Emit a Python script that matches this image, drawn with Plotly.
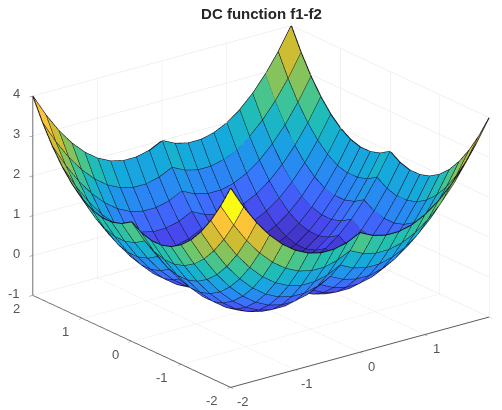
import plotly.graph_objects as go

# grid and values
grid = [-2.0,-1.8,-1.6,-1.4,-1.2,-1.0,-0.8,-0.6,-0.4,-0.2,0.0,0.2,0.4,0.6,0.8,1.0,1.2,1.4,1.6,1.8,2.0]
row_a = [4,3.44,2.96,2.56,2.24,2,1.84,1.76,1.76,1.84,2,1.84,1.76,1.76,1.84,2,2.24,2.56,2.96,3.44,4]
row_b = [3.44,2.88,2.4,2,1.68,1.44,1.28,1.2,1.2,1.28,1.44,1.28,1.2,1.2,1.28,1.44,1.68,2,2.4,2.88,3.44]
row_c = [2.96,2.4,1.92,1.52,1.2,.96,.8,.72,.72,.8,.96,.8,.72,.72,.8,.96,1.2,1.52,1.92,2.4,2.96]
row_d = [2.56,2,1.52,1.12,.8,.56,.4,.32,.32,.4,.56,.4,.32,.32,.4,.56,.8,1.12,1.52,2,2.56]
row_e = [2.24,1.68,1.2,.8,.48,.24,.08,0,0,.08,.24,.08,0,0,.08,.24,.48,.8,1.2,1.68,2.24]
row_f = [2,1.44,.96,.56,.24,0,-.16,-.24,-.24,-.16,0,-.16,-.24,-.24,-.16,0,.24,.56,.96,1.44,2]
row_g = [1.84,1.28,.8,.4,.08,-.16,-.32,-.4,-.4,-.32,-.16,-.32,-.4,-.4,-.32,-.16,.08,.4,.8,1.28,1.84]
row_h = [1.76,1.2,.72,.32,0,-.24,-.4,-.48,-.48,-.4,-.24,-.4,-.48,-.48,-.4,-.24,0,.32,.72,1.2,1.76]
z_rows = [row_a,row_b,row_c,row_d,row_e,
          row_f,row_g,row_h,row_h,row_g,row_f,row_g,row_h,row_h,row_g,row_f,
          row_e,row_d,row_c,row_b,row_a]

ticks = [-2,-1,0,1,2]
zticks = [-1,0,1,2,3,4]
title_text = "DC function f1-f2"

parula = [
    [0.0,"rgb(62,38,168)"],[0.1,"rgb(71,71,235)"],[0.2,"rgb(62,111,255)"],
    [0.3,"rgb(35,145,238)"],[0.4,"rgb(20,172,218)"],[0.5,"rgb(35,192,175)"],
    [0.6,"rgb(105,200,110)"],[0.7,"rgb(173,189,71)"],[0.75,"rgb(204,189,51)"],
    [0.85,"rgb(253,189,61)"],[0.9,"rgb(250,205,50)"],[1.0,"rgb(249,251,20)"],
]

n = len(grid)
vx, vy, vz = [], [], []
for j in range(n):
    for i in range(n):
        vx.append(grid[i]); vy.append(grid[j]); vz.append(z_rows[j][i])

ti, tj, tk, cell = [], [], [], []
for j in range(n-1):
    for i in range(n-1):
        a = j*n+i; b = a+1; c = a+n; d = c+1
        ti += [a, a]; tj += [b, d]; tk += [d, c]
        cell += [z_rows[j][i]]*2   # MATLAB flat shading: lower-index corner

lx, ly, lz = [], [], []
for j in range(n):
    for i in range(n):
        lx.append(grid[i]); ly.append(grid[j]); lz.append(z_rows[j][i])
    lx.append(None); ly.append(None); lz.append(None)
for i in range(n):
    for j in range(n):
        lx.append(grid[i]); ly.append(grid[j]); lz.append(z_rows[j][i])
    lx.append(None); ly.append(None); lz.append(None)

fig = go.Figure()
fig.add_trace(go.Mesh3d(
    x=vx, y=vy, z=vz, i=ti, j=tj, k=tk,
    intensity=cell, intensitymode="cell", colorscale=parula, cmin=-0.48, cmax=4,
    showscale=False, flatshading=True, hoverinfo="skip",
    lighting=dict(ambient=1, diffuse=0, specular=0, roughness=1, fresnel=0),
))
fig.add_trace(go.Scatter3d(
    x=lx, y=ly, z=lz, mode="lines", line=dict(color="rgb(15,15,25)", width=2),
    hoverinfo="skip", showlegend=False,
))

def axis(tv, rng):
    return dict(
        range=rng, autorange=False, tickmode="array", tickvals=tv, showticklabels=False,
        showgrid=True, gridcolor="#e3e3e3", gridwidth=1,
        showline=True, linecolor="#5a5a5a", linewidth=2,
        ticks="outside", ticklen=4, tickcolor="#5a5a5a", tickwidth=1,
        showbackground=False, zeroline=False, showspikes=False, title=dict(text=""),
    )

label_font = dict(family="Liberation Sans", size=13, color="#555555")
def label(x, y, z, text, xanchor, xshift, yshift):
    return dict(x=x, y=y, z=z, text=text, showarrow=False, font=label_font,
                xanchor=xanchor, yanchor="middle", xshift=xshift, yshift=yshift)

labels = (
    [label(-2, 2, v, str(v), "right", -11, 2) for v in zticks]
    + [label(-2, v, -1, str(v), "right", -11, -13) for v in ticks]
    + [label(v, -2, -1, str(v), "center", 12, -14) for v in ticks]
)

fig.update_layout(
    width=502, height=410, margin=dict(l=0, r=0, t=0, b=0),
    paper_bgcolor="white", showlegend=False,
    title=dict(text="<b>"+title_text+"</b>", x=0.505, xanchor="center", y=0.985, yanchor="middle",
               font=dict(family="Liberation Sans", size=15, color="#262626")),
    scene=dict(
        domain=dict(x=[0.008,1], y=[0.032,1]),
        xaxis=axis(ticks, [-2,2]), yaxis=axis(ticks, [-2,2]), zaxis=axis(zticks, [-1,4]),
        aspectmode="manual", aspectratio=dict(x=1.64, y=1.64, z=1.075),
        camera=dict(eye=dict(x=-1.5,y=-1.96,z=0.94), center=dict(x=0,y=0,z=0), up=dict(x=0,y=0,z=1),
                    projection=dict(type="orthographic")),
        annotations=labels,
    ),
)
fig.write_html("out.html")
